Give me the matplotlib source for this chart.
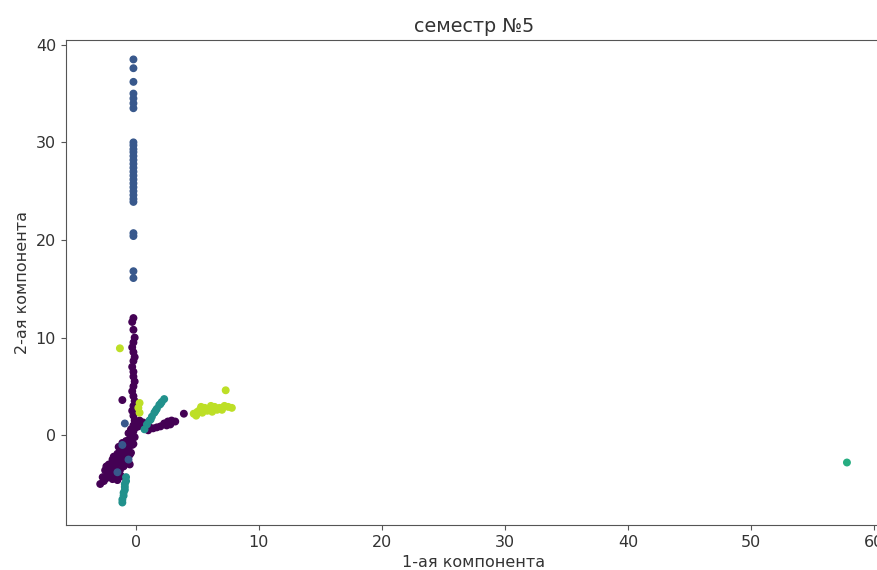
import matplotlib
matplotlib.use("Agg")
import matplotlib.pyplot as plt
import numpy as np

# cluster 0 - purple: vertical arm, main diagonal blob, horizontal arm
c0_x = [-0.2, -0.3, -0.2, -0.1, -0.2, -0.3, -0.2, -0.1, -0.2, -0.3, -0.2, -0.2,
        -0.1, -0.2, -0.3, -0.2, -0.1, -0.2, -0.3, -0.2, -0.1, -0.2,
        -2.9, -2.6, -2.4, -2.3, -2.5, -2.2, -2.0, -1.8, -1.6, -1.9, -1.5, -1.7,
        -1.4, -1.2, -1.0, -1.3, -1.1, -0.9, -0.8, -0.6, -0.7, -0.5, -0.3, -0.4,
        -0.2, 0.0, 0.1, 0.3, -1.2, -2.1, -1.6, -0.9, -0.6, -1.4, -0.5, -2.7,
        -2.0, -1.1, -0.4, -0.1, -1.8, -1.5, -0.8, -0.3, -2.2, -1.9, -1.3, -0.7,
        -1.0, -0.5, -1.7, -2.4, -1.1, -0.2, 0.2, -0.6,
        0.5, 0.8, 1.1, 1.4, 1.7, 2.0, 2.3, 2.6, 2.9, 3.2, 2.5, 2.8, 1.0, 0.6,
        3.9, -1.1]
c0_y = [12.0, 11.6, 10.8, 10.0, 9.5, 9.0, 8.5, 8.0, 7.6, 7.0, 6.5, 6.0,
        5.5, 5.0, 4.5, 4.0, 3.5, 3.0, 2.5, 2.0, 1.5, 1.0,
        -5.0, -4.7, -4.4, -4.0, -3.6, -3.3, -3.0, -3.4, -4.0, -4.5, -4.6, -2.7,
        -2.4, -2.8, -3.2, -3.6, -2.0, -1.6, -2.2, -1.2, -0.8, -0.4, 0.0, -1.8,
        0.4, 0.8, 1.2, 1.5, -4.2, -3.8, -3.1, -2.6, -2.8, -1.2, -3.0, -4.3,
        -4.0, -1.4, 0.6, -0.2, -2.2, -1.9, -0.6, -1.0, -3.0, -2.5, -1.7, -1.4,
        -2.4, -2.0, -3.7, -3.2, -0.8, -0.9, 0.9, 0.2,
        1.0, 0.9, 0.8, 0.7, 0.8, 0.9, 1.2, 1.4, 1.5, 1.4, 1.0, 1.1, 0.5, 1.3,
        2.2, 3.6]

# cluster 1 - blue: high vertical line
c1_x = [-0.2, -0.2, -0.2, -0.2, -0.2, -0.2, -0.2, -0.2, -0.2, -0.2, -0.2, -0.2,
        -0.2, -0.2, -0.2, -0.2, -0.2, -0.2, -0.2, -0.2, -0.2, -0.2, -0.2, -0.2,
        -0.2, -0.2, -0.2, -0.2, -0.9, -1.1, -0.6, -1.5]
c1_y = [38.5, 37.6, 36.2, 35.0, 34.5, 34.0, 33.5, 30.0, 29.7, 29.3, 29.0, 28.6,
        28.2, 27.8, 27.4, 27.0, 26.6, 26.2, 25.8, 25.4, 25.0, 24.6, 24.2, 23.9,
        20.7, 20.4, 16.8, 16.1, 1.2, -1.0, -2.5, -3.8]

# cluster 2 - teal: diagonal streak and lower streak
c2_x = [0.7, 0.9, 1.1, 1.3, 1.5, 1.7, 1.9, 2.1, 2.3, 1.2, 1.6, 2.0,
        -0.8, -0.8, -0.9, -0.9, -0.9, -1.0, -1.0, -1.1, -1.1]
c2_y = [0.6, 1.1, 1.5, 1.9, 2.3, 2.7, 3.1, 3.4, 3.7, 1.6, 2.5, 3.2,
        -4.3, -4.7, -5.0, -5.3, -5.6, -5.9, -6.2, -6.6, -6.9]

# cluster 3 - green: far outlier
c3_x = [57.8]
c3_y = [-2.8]

# cluster 4 - lime
c4_x = [4.7, 5.0, 5.2, 5.4, 5.6, 5.8, 6.0, 6.2, 6.4, 6.6, 6.8, 7.0, 7.2, 7.5,
        7.8, 5.3, 6.1, 4.9, 7.3, -1.3, 0.3, 0.2, 0.3]
c4_y = [2.2, 2.4, 2.6, 2.3, 2.8, 2.5, 2.7, 2.4, 2.9, 2.6, 2.8, 2.6, 3.0, 2.9,
        2.8, 2.9, 3.0, 2.0, 4.6, 8.9, 3.3, 2.8, 2.3]

xs = [c0_x, c1_x, c2_x, c3_x, c4_x]
ys = [c0_y, c1_y, c2_y, c3_y, c4_y]
levels = [0.0, 0.27, 0.5, 0.62, 0.9]

fig = plt.figure(figsize=(8.77, 5.70), dpi=100)
ax = fig.add_axes([0.075, 0.079, 0.93, 0.851])

x = np.concatenate(xs)
y = np.concatenate(ys)
c = np.concatenate([[lv] * len(a) for lv, a in zip(levels, xs)])
ax.scatter(x, y, c=c, cmap="viridis", vmin=0, vmax=1, s=22)

tc = "#333333"
ax.set_title("семестр №5", fontsize=13.8, color=tc)
ax.set_xlabel("1-ая компонента", fontsize=11.5, color=tc)
ax.set_ylabel("2-ая компонента", fontsize=11.5, color=tc)
ax.tick_params(labelsize=11.5, labelcolor=tc, color="#555555")
for s in ax.spines.values():
    s.set_color("#555555")
ax.set_xlim(-5.7, 60.6)
ax.set_ylim(-9.2, 40.5)

fig.savefig("out.png", dpi=100)
